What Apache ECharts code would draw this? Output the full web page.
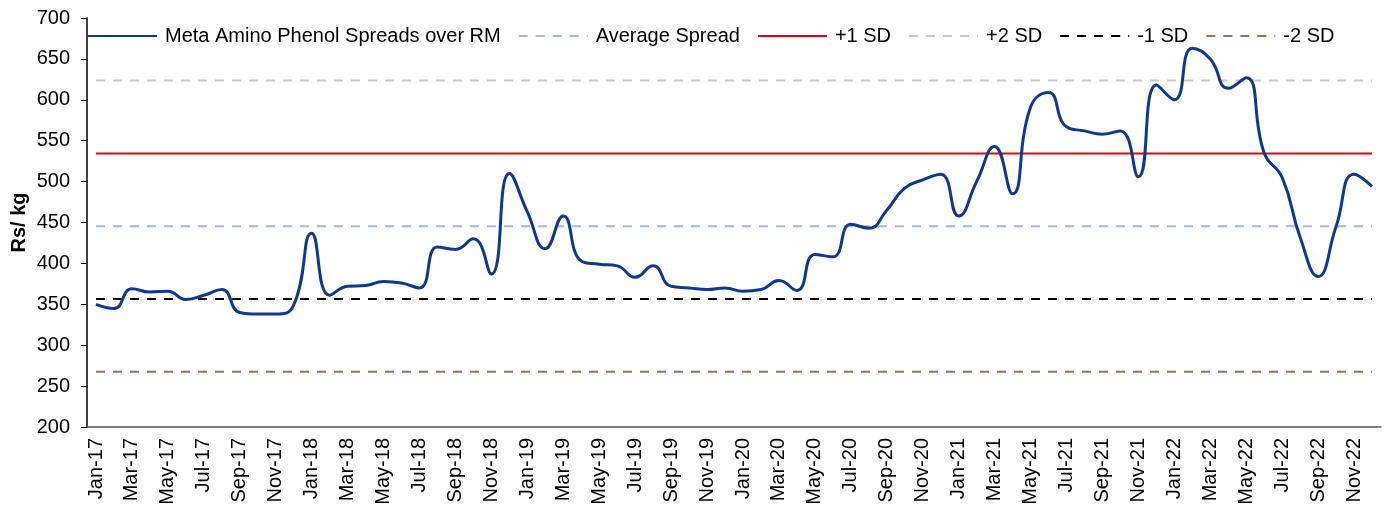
<!DOCTYPE html>
<html>
<head>
<meta charset="utf-8">
<title>Meta Amino Phenol Spreads</title>
<script src="https://cdn.jsdelivr.net/npm/echarts@6/dist/echarts.min.js"></script>
<style>
    html, body { margin: 0; padding: 0; background: #fff; }
    #chart { width: 1391px; height: 507px; }
</style>
</head>
<body>
<div id="chart"></div>
<script>
// months Jan-17 .. Dec-22
var months = [
    'Jan-17', 'Feb-17', 'Mar-17', 'Apr-17', 'May-17', 'Jun-17', 'Jul-17', 'Aug-17', 'Sep-17', 'Oct-17', 'Nov-17', 'Dec-17',
    'Jan-18', 'Feb-18', 'Mar-18', 'Apr-18', 'May-18', 'Jun-18', 'Jul-18', 'Aug-18', 'Sep-18', 'Oct-18', 'Nov-18', 'Dec-18',
    'Jan-19', 'Feb-19', 'Mar-19', 'Apr-19', 'May-19', 'Jun-19', 'Jul-19', 'Aug-19', 'Sep-19', 'Oct-19', 'Nov-19', 'Dec-19',
    'Jan-20', 'Feb-20', 'Mar-20', 'Apr-20', 'May-20', 'Jun-20', 'Jul-20', 'Aug-20', 'Sep-20', 'Oct-20', 'Nov-20', 'Dec-20',
    'Jan-21', 'Feb-21', 'Mar-21', 'Apr-21', 'May-21', 'Jun-21', 'Jul-21', 'Aug-21', 'Sep-21', 'Oct-21', 'Nov-21', 'Dec-21',
    'Jan-22', 'Feb-22', 'Mar-22', 'Apr-22', 'May-22', 'Jun-22', 'Jul-22', 'Aug-22', 'Sep-22', 'Oct-22', 'Nov-22', 'Dec-22'
];

// spread, Rs/kg
var spread = [
    350, 345, 369, 365, 366, 356, 361, 368, 340, 338, 338, 349,
    437, 361, 372, 373, 378, 376, 370, 420, 417, 430, 387, 510,
    463, 418, 458, 403, 399, 397, 383, 397, 372, 370, 368, 370,
    366, 368, 379, 367, 411, 408, 448, 443, 465, 492, 502, 509,
    458, 500, 543, 485, 591, 609, 567, 562, 558, 562, 506, 618,
    600, 663, 650, 614, 627, 535, 505, 432, 384, 445, 509, 494
];

// reference levels
var avgSpread = 445.5;
var plus1Sd = 534.5;
var plus2Sd = 623.5;
var minus1Sd = 356.5;
var minus2Sd = 267.5;

var yTicks = { min: 200, max: 700, interval: 50 };

function flat(v) {
    return months.map(function () { return v; });
}

var chart = echarts.init(document.getElementById('chart'), null, { renderer: 'canvas' });

var font = 'Liberation Sans, Arial, sans-serif';

function refLine(name, value, color, type) {
    return {
        name: name,
        type: 'line',
        data: flat(value),
        symbol: 'none',
        silent: true,
        lineStyle: { color: color, width: 2, type: type },
        itemStyle: { color: color }
    };
}

var option = {
    animation: false,
    textStyle: { fontFamily: font },
    grid: { left: 87, right: 10, top: 18, bottom: 80, outerBoundsMode: 'none' },
    legend: {
        left: 87,
        top: 26,
        padding: 0,
        itemWidth: 69,
        itemHeight: 20,
        itemGap: 17,
        itemStyle: { opacity: 0 },
        textStyle: { fontSize: 20, color: '#000', fontFamily: font, padding: [0, 0, 0, 3] },
        data: ['Meta Amino Phenol Spreads over RM', 'Average Spread', '+1 SD', '+2 SD', '-1 SD', '-2 SD']
    },
    xAxis: {
        type: 'category',
        data: months,
        boundaryGap: true,
        axisLine: { lineStyle: { color: '#555', width: 1.5 } },
        axisTick: { interval: 1, length: 5, lineStyle: { color: '#555' } },
        axisLabel: { interval: 1, rotate: 90, fontSize: 20, color: '#000', margin: 11 },
        splitLine: { show: false }
    },
    yAxis: {
        type: 'value',
        min: yTicks.min,
        max: yTicks.max,
        interval: yTicks.interval,
        name: 'Rs/ kg',
        nameLocation: 'middle',
        nameGap: 58,
        nameMoveOverlap: false,
        nameTextStyle: { fontSize: 20, fontWeight: 'bold', color: '#000' },
        axisLine: { show: true, lineStyle: { color: '#000', width: 1.5 } },
        axisTick: { show: true, length: 6, lineStyle: { color: '#000' } },
        axisLabel: { fontSize: 20, color: '#000', margin: 17 },
        splitLine: { show: false }
    },
    series: [
        refLine('Average Spread', avgSpread, '#a9b5db', [9, 8]),
        refLine('+1 SD', plus1Sd, '#e8000f', 'solid'),
        refLine('+2 SD', plus2Sd, '#c8c8c8', [9, 8]),
        refLine('-1 SD', minus1Sd, '#000000', [9, 8]),
        refLine('-2 SD', minus2Sd, '#967650', [9, 8]),
        {
            name: 'Meta Amino Phenol Spreads over RM',
            type: 'line',
            data: spread,
            smooth: 0.5,
            symbol: 'none',
            z: 5,
            lineStyle: { color: '#0d3990', width: 3 },
            itemStyle: { color: '#0d3990' }
        }
    ]
};

chart.setOption(option);
</script>
</body>
</html>
